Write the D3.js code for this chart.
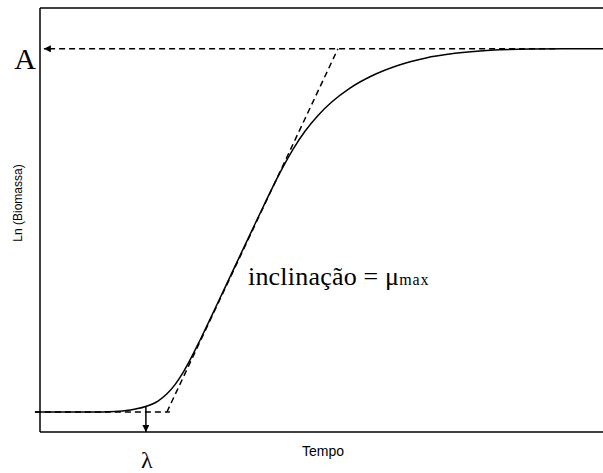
<!DOCTYPE html>
<html><head><meta charset="utf-8">
<script src="https://cdn.jsdelivr.net/npm/d3@7"></script>
<style>body{margin:0;background:#fff}</style>
</head><body>
<svg id="c" width="603" height="473"></svg>
<script>
// Growth curve samples (time, ln biomass)
const time = [-0.167, 1.667, 2.5, 3.0, 3.667, 3.933, 4.233, 4.5, 4.767, 5.033, 5.333, 5.9, 6.4, 6.9, 7.433, 8.0, 8.433, 8.833, 9.267, 9.733, 10.333, 11.067, 11.9, 12.833, 13.833, 15.0, 16.333, 17.667, 19.0];
const lnBiomass = [1.0, 1.0, 1.011, 1.044, 1.154, 1.242, 1.401, 1.604, 1.868, 2.186, 2.582, 3.369, 4.070, 4.771, 5.511, 6.272, 6.787, 7.184, 7.534, 7.834, 8.136, 8.407, 8.628, 8.795, 8.901, 8.969, 8.996, 9.0, 9.0];
// tangent at the inflection (slope = mu max)
const tangentT = [4.23, 9.93];
const tangentY = [1.0, 9.0];
// lag baseline
const lagT = [-0.17, 4.33];
const y0 = 1.0;
// lambda and asymptote
const lambdaT = 3.53;
const A = 9.0;
const asymT = [17.17, 0.13];
const xDomain = [0, 20];
const yDomain = [0.56, 9.9];
const labels = {A: "A", lambda: "λ", slope: "inclinação = μ", slopeSub: "max", xTitle: "Tempo", yTitle: "Ln (Biomassa)"};

const svg = d3.select("#c");
const x = d3.scaleLinear().domain(xDomain).range([40, 640]);
const y = d3.scaleLinear().domain(yDomain).range([432, 8]);

const defs = svg.append("defs");
defs.append("marker").attr("id","ah").attr("viewBox","0 0 10 10").attr("refX",10).attr("refY",5)
  .attr("markerWidth",8).attr("markerHeight",7).attr("markerUnits","userSpaceOnUse").attr("orient","auto")
  .append("path").attr("d","M0,0L10,5L0,10Z").attr("fill","#000");

// frame
const frame = svg.append("g").attr("stroke","#000").attr("stroke-width",1.5).attr("fill","none");
frame.append("line").attr("x1",x(0)).attr("x2",x(0)).attr("y1",y(yDomain[1])).attr("y2",y(yDomain[0]));
frame.append("line").attr("x1",x(0)).attr("x2",603).attr("y1",y(yDomain[1])).attr("y2",y(yDomain[1]));
frame.append("line").attr("x1",x(0)).attr("x2",603).attr("y1",y(yDomain[0])).attr("y2",y(yDomain[0]));

const dash = "6,4";
// lag baseline
svg.append("line").attr("x1",x(lagT[0])).attr("x2",x(lagT[1])).attr("y1",y(y0)).attr("y2",y(y0))
  .attr("stroke","#000").attr("stroke-width",1.5).attr("stroke-dasharray",dash);
// tangent
svg.append("line").attr("x1",x(tangentT[0])).attr("x2",x(tangentT[1])).attr("y1",y(tangentY[0])).attr("y2",y(tangentY[1]))
  .attr("stroke","#000").attr("stroke-width",1.5).attr("stroke-dasharray",dash);
// asymptote arrow
svg.append("line").attr("x1",x(asymT[0])).attr("x2",x(asymT[1])).attr("y1",y(A)).attr("y2",y(A))
  .attr("stroke","#000").attr("stroke-width",1.5).attr("stroke-dasharray",dash).attr("marker-end","url(#ah)");

// growth curve
const pts = time.map((t,i)=>[t, lnBiomass[i]]);
svg.append("path").datum(pts)
  .attr("d", d3.line().x(d=>x(d[0])).y(d=>y(d[1])).curve(d3.curveMonotoneX))
  .attr("fill","none").attr("stroke","#000").attr("stroke-width",1.5);

// lambda arrow
const i = d3.bisectRight(time, lambdaT);
const f = (lambdaT - time[i-1])/(time[i]-time[i-1]);
const yl = lnBiomass[i-1] + f*(lnBiomass[i]-lnBiomass[i-1]);
svg.append("line").attr("x1",x(lambdaT)).attr("x2",x(lambdaT)).attr("y1",y(yl)).attr("y2",y(yDomain[0]))
  .attr("stroke","#000").attr("stroke-width",1.5).attr("marker-end","url(#ah)");

// texts
const serif = "'Liberation Serif','Times New Roman',serif";
const sans = "'Liberation Sans',Arial,sans-serif";
svg.append("text").attr("x",36).attr("y",69).attr("text-anchor","end").attr("font-family",serif).attr("font-size",30).text(labels.A);
svg.append("text").attr("x",x(lambdaT)+1).attr("y",468).attr("text-anchor","middle").attr("font-family",serif).attr("font-size",24).text(labels.lambda);
const t = svg.append("text").attr("x",248).attr("y",285).attr("font-family",serif).attr("font-size",26).attr("letter-spacing",0.2);
t.append("tspan").text(labels.slope);
t.append("tspan").attr("font-size",16).attr("letter-spacing",0.8).text(labels.slopeSub);
svg.append("text").attr("x",323).attr("y",456).attr("text-anchor","middle").attr("font-family",sans).attr("font-size",14).text(labels.xTitle);
svg.append("text").attr("transform","translate(22,203) rotate(-90)").attr("text-anchor","middle").attr("font-family",sans).attr("font-size",12).text(labels.yTitle);
</script>
</body></html>
